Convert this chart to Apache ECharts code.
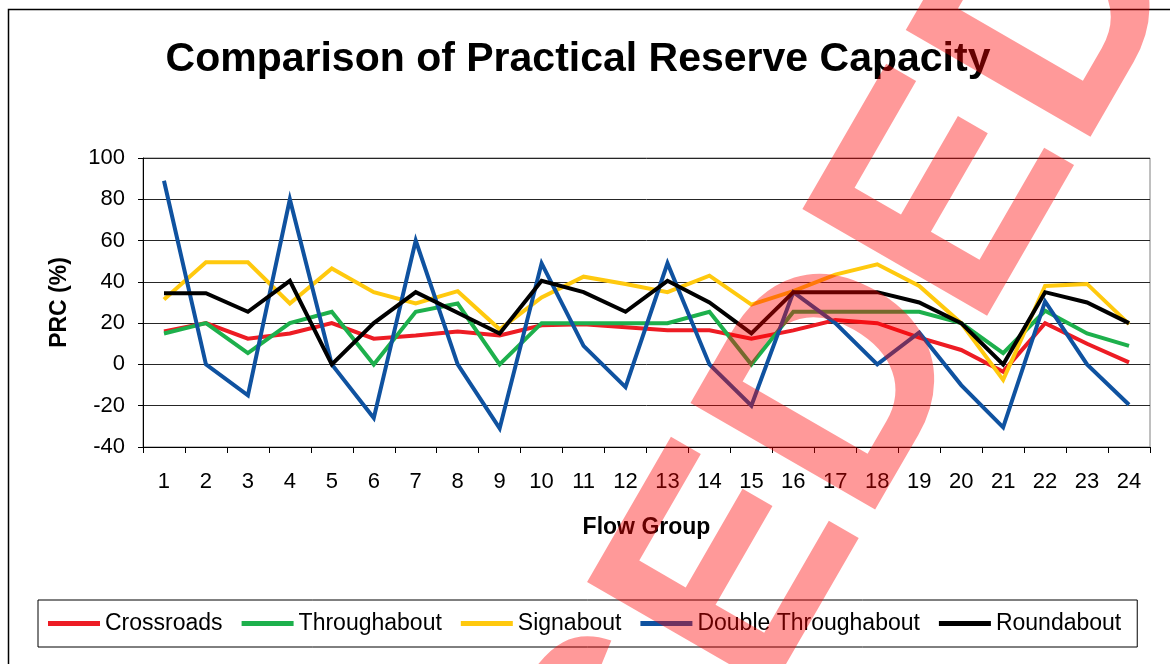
<!DOCTYPE html>
<html>
<head>
<meta charset="utf-8">
<title>Comparison of Practical Reserve Capacity</title>
<script src="https://cdn.jsdelivr.net/npm/echarts@6/dist/echarts.min.js"></script>
<style>
  html, body { margin: 0; padding: 0; background: #ffffff; }
  #chart { width: 1170px; height: 664px; }
</style>
</head>
<body>
<div id="chart"></div>
<script>
// flow groups 1..24
const flowGroups = ["1","2","3","4","5","6","7","8","9","10","11","12","13","14","15","16","17","18","19","20","21","22","23","24"];

// PRC (%) per junction type
const crossroads = [16, 20, 12.5, 15, 20, 12.5, 14, 16, 14, 19, 19.5, 18, 16.5, 16.5, 12.5, 16.5, 21.5, 20, 13, 7, -3.5, 20, 10, 1];
const throughabout = [15, 20, 5.5, 20, 25.5, 0, 25.5, 29.5, 0, 20, 20, 20, 20, 25.5, 0, 25.5, 25.5, 25.5, 25.5, 20, 5.5, 26, 15, 9];
const signabout = [31.5, 49.5, 49.5, 29.5, 46.5, 35, 29.5, 35.5, 17, 32.5, 42.5, 39, 35, 43, 29, 35.5, 43.5, 48.5, 38, 20, -7.5, 38, 39, 19.5];
const doubleThroughabout = [89, 0, -15, 80, 0, -26, 60, 0, -31, 49, 9, -11, 49, 0, -20, 35, 20, 0, 15.5, -10, -30.5, 30.5, 0, -19.5];
const roundabout = [34.5, 34.5, 25.5, 40.5, 0, 20, 35, 25, 15, 40.5, 35, 25.5, 40.5, 30, 15, 35, 35, 35, 30, 20, 0, 35, 30, 20];

const seriesNames = ["Crossroads", "Throughabout", "Signabout", "Double Throughabout", "Roundabout"];
const seriesColors = ["#ED1C24", "#1DB04C", "#FFC90E", "#0F52A0", "#000000"];
const seriesData = [crossroads, throughabout, signabout, doubleThroughabout, roundabout];

const FONT = '"Liberation Sans", Arial, Helvetica, sans-serif';

const chart = echarts.init(document.getElementById("chart"), null, { renderer: "canvas" });

const option = {
  backgroundColor: "#ffffff",
  animation: false,
  textStyle: { fontFamily: FONT },
  title: {
    text: "Comparison of Practical Reserve Capacity",
    left: 578,
    textAlign: "center",
    top: 39,
    padding: 0,
    textStyle: {
      fontFamily: FONT,
      fontSize: 41,
      fontWeight: "bold",
      color: "#000",
    },
  },
  legend: {
    left: 38,
    top: 600,
    padding: [12, 16, 12, 10],
    itemGap: 19,
    itemWidth: 52,
    itemHeight: 5,
    icon: "rect",
    borderColor: "#000",
    borderWidth: 1,
    data: seriesNames,
    textStyle: {
      fontFamily: FONT,
      fontSize: 23,
      color: "#000",
    },
  },
  grid: {
    left: 143,
    right: 20,
    top: 158,
    bottom: 217,
    show: true,
    backgroundColor: "#ffffff",
    borderColor: "#808080",
    borderWidth: 1,
  },
  xAxis: {
    type: "category",
    data: flowGroups,
    boundaryGap: true,
    name: "Flow Group",
    nameLocation: "middle",
    nameGap: 69,
    nameTextStyle: {
      fontFamily: FONT,
      fontSize: 23,
      fontWeight: "bold",
      color: "#000",
    },
    axisLine: { onZero: false, lineStyle: { color: "#000", width: 1 } },
    axisTick: { show: true, length: 6, lineStyle: { color: "#000" } },
    axisLabel: {
      fontFamily: FONT,
      fontSize: 22,
      color: "#000",
      margin: 24,
      interval: 0,
    },
    splitLine: { show: false },
  },
  yAxis: {
    type: "value",
    min: -40,
    max: 100,
    interval: 20,
    name: "PRC (%)",
    nameLocation: "middle",
    nameGap: 72,
    nameTextStyle: {
      fontFamily: FONT,
      fontSize: 23,
      fontWeight: "bold",
      color: "#000",
    },
    axisLine: { show: true, lineStyle: { color: "#000", width: 1 } },
    axisTick: { show: true, length: 5, lineStyle: { color: "#000" } },
    axisLabel: {
      fontFamily: FONT,
      fontSize: 22,
      color: "#000",
      margin: 18,
    },
    splitLine: {
      show: true,
      lineStyle: { color: "#262626", width: 1, type: "solid" },
    },
  },
  series: seriesNames.map((name, i) => ({
    name: name,
    type: "line",
    data: seriesData[i],
    symbol: "none",
    smooth: false,
    lineStyle: { color: seriesColors[i], width: 4, join: "miter" },
    itemStyle: { color: seriesColors[i] },
  })),
  graphic: [
    {
      // outer chart frame
      type: "rect",
      silent: true,
      z: 50,
      shape: { x: 8.5, y: 9.5, width: 1200, height: 700 },
      style: { fill: "none", stroke: "#000", lineWidth: 1.5 },
    },
    {
      // superseded stamp laid over the chart
      type: "text",
      silent: true,
      z: 100,
      x: 1118,
      y: -82,
      rotation: Math.PI / 3,
      style: {
        text: "SUPERSEDED",
        fill: "rgba(255,0,0,0.4)",
        font: 'bold 310px "Liberation Sans", Arial, sans-serif',
        align: "right",
        verticalAlign: "middle",
      },
    },
  ],
};

chart.setOption(option);
window.addEventListener("resize", () => chart.resize());
</script>
</body>
</html>
